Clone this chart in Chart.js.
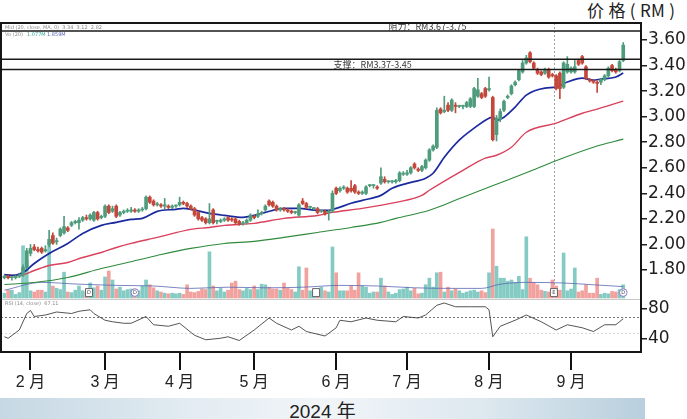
<!DOCTYPE html>
<html><head><meta charset="utf-8">
<script src="https://cdn.jsdelivr.net/npm/chart.js@4/dist/chart.umd.min.js"></script>
<style>
html,body{margin:0;padding:0;background:#fff;}
#wrap{position:relative;width:687px;height:419px;overflow:hidden;background:#fff;}
#band{position:absolute;left:0;top:398px;width:645px;height:21px;background:linear-gradient(90deg,#c6d8e4 0%,#e3ecf2 30%,#f1f5f8 50%,#dde8ef 75%,#b9cfdd 100%);}
#year{position:absolute;left:0;top:396px;width:645px;height:21px;line-height:21px;text-align:center;font:19px 'Liberation Sans Narrow','Liberation Sans','Noto Sans CJK SC',sans-serif;color:#222;}
#title{position:absolute;left:587px;top:-3px;font:17px 'Noto Sans CJK SC','Liberation Sans',sans-serif;letter-spacing:0.3px;color:#222;white-space:nowrap;}
canvas{position:absolute;left:0;top:0;}
</style></head>
<body><div id="wrap">
<div id="band"></div><div id="year">2024 年</div>
<div id="title">价 格 ( RM )</div>
<canvas id="c" width="687" height="419"></canvas>
</div>
<script>
// ---- data ----
const monthIdx = [7, 27, 47, 67, 89, 108, 130, 152];
const monthLabels = ['2 月','3 月','4 月','5 月','6 月','7 月','8 月','9 月'];
const priceTicks = [1.80, 2.00, 2.20, 2.40, 2.60, 2.80, 3.00, 3.20, 3.40, 3.60];
const rsiTicks = [40, 80];
const resistance = [3.67, 3.75];
const support = [3.37, 3.45];

const opens = [1.74,1.75,1.74,1.74,1.75,1.76,1.82,1.93,1.98,1.96,
1.97,1.95,2.00,2.07,2.02,2.07,2.09,2.13,2.15,2.17,
2.17,2.19,2.21,2.20,2.19,2.25,2.21,2.22,2.30,2.26,
2.30,2.23,2.25,2.26,2.26,2.27,2.26,2.27,2.28,2.37,
2.34,2.31,2.31,2.30,2.30,2.29,2.30,2.31,2.33,2.32,
2.30,2.28,2.25,2.21,2.20,2.17,2.27,2.18,2.18,2.19,
2.21,2.20,2.20,2.18,2.16,2.17,2.19,2.22,2.22,2.24,
2.27,2.34,2.33,2.30,2.27,2.28,2.27,2.26,2.25,2.23,
2.34,2.32,2.29,2.28,2.28,2.26,2.26,2.25,2.26,2.44,
2.42,2.44,2.44,2.44,2.46,2.41,2.40,2.40,2.46,2.46,
2.45,2.48,2.51,2.49,2.49,2.49,2.50,2.55,2.55,2.56,
2.63,2.59,2.58,2.60,2.66,2.74,2.76,3.06,3.04,3.09,
3.05,3.09,3.08,3.08,3.08,3.08,3.08,3.16,3.18,3.22,
3.21,3.15,2.86,2.98,3.05,3.15,3.18,3.25,3.29,3.35,
3.42,3.50,3.42,3.37,3.35,3.34,3.37,3.33,3.32,3.34,
3.23,3.35,3.35,3.35,3.44,3.47,3.39,3.29,3.28,3.27,
3.27,3.29,3.32,3.40,3.37,3.36,3.44];
const highs = [1.76,1.76,1.75,1.76,1.77,1.84,1.97,2.00,2.00,1.98,
1.98,1.99,2.11,2.09,2.05,2.13,2.22,2.14,2.18,2.19,
2.21,2.22,2.23,2.24,2.26,2.26,2.23,2.31,2.31,2.30,
2.31,2.26,2.27,2.28,2.29,2.28,2.28,2.29,2.38,2.38,
2.35,2.33,2.32,2.36,2.31,2.31,2.31,2.37,2.34,2.33,
2.31,2.29,2.26,2.22,2.21,2.32,2.28,2.19,2.20,2.21,
2.22,2.21,2.21,2.19,2.18,2.20,2.24,2.23,2.27,2.26,
2.31,2.35,2.34,2.31,2.29,2.29,2.28,2.27,2.26,2.32,
2.36,2.33,2.30,2.29,2.29,2.27,2.27,2.27,2.42,2.45,
2.45,2.46,2.45,2.50,2.47,2.42,2.42,2.46,2.47,2.47,
2.46,2.60,2.53,2.50,2.50,2.51,2.57,2.57,2.58,2.61,
2.64,2.60,2.62,2.67,2.75,2.78,3.07,3.07,3.16,3.11,
3.14,3.11,3.09,3.09,3.12,3.15,3.23,3.30,3.19,3.23,
3.31,3.16,3.01,3.06,3.13,3.17,3.25,3.28,3.37,3.44,
3.48,3.51,3.43,3.38,3.36,3.38,3.38,3.34,3.33,3.35,
3.43,3.47,3.39,3.44,3.45,3.48,3.40,3.30,3.29,3.28,
3.30,3.33,3.39,3.41,3.38,3.44,3.58];
const lows = [1.73,1.73,1.72,1.73,1.74,1.75,1.81,1.91,1.95,1.94,
1.93,1.94,1.98,2.00,2.00,2.06,2.08,2.10,2.14,2.16,
2.12,2.18,2.19,2.19,2.18,2.19,2.20,2.21,2.24,2.25,
2.21,2.22,2.24,2.25,2.25,2.25,2.25,2.26,2.27,2.32,
2.30,2.30,2.29,2.28,2.28,2.28,2.29,2.30,2.31,2.29,
2.27,2.22,2.19,2.18,2.16,2.16,2.16,2.16,2.17,2.18,
2.18,2.18,2.16,2.15,2.15,2.16,2.18,2.20,2.21,2.23,
2.26,2.30,2.29,2.26,2.26,2.26,2.25,2.24,2.24,2.22,
2.31,2.28,2.28,2.27,2.24,2.25,2.23,2.19,2.25,2.39,
2.41,2.43,2.40,2.41,2.40,2.39,2.39,2.39,2.45,2.44,
2.43,2.47,2.48,2.48,2.48,2.48,2.49,2.54,2.54,2.55,
2.59,2.57,2.57,2.59,2.65,2.73,2.75,3.02,3.03,3.04,
3.04,3.03,3.07,3.06,3.07,3.07,3.07,3.15,3.14,3.15,
3.20,2.81,2.81,2.96,3.04,3.14,3.17,3.24,3.28,3.34,
3.41,3.42,3.37,3.33,3.32,3.33,3.30,3.31,3.21,3.14,
3.22,3.34,3.34,3.34,3.40,3.41,3.29,3.27,3.26,3.19,
3.25,3.28,3.31,3.35,3.34,3.35,3.43];
const closes = [1.75,1.74,1.74,1.75,1.76,1.82,1.95,1.97,1.96,1.95,
1.94,1.96,2.04,2.01,2.03,2.12,2.14,2.11,2.17,2.18,
2.19,2.21,2.20,2.23,2.25,2.20,2.22,2.30,2.25,2.28,
2.22,2.25,2.26,2.26,2.27,2.26,2.27,2.27,2.37,2.33,
2.31,2.31,2.30,2.31,2.29,2.30,2.30,2.33,2.32,2.30,
2.28,2.23,2.20,2.19,2.17,2.20,2.17,2.18,2.19,2.20,
2.19,2.19,2.17,2.16,2.17,2.19,2.23,2.21,2.24,2.25,
2.30,2.31,2.30,2.27,2.28,2.27,2.26,2.25,2.25,2.31,
2.32,2.29,2.29,2.28,2.25,2.26,2.24,2.26,2.40,2.40,
2.44,2.45,2.41,2.42,2.41,2.40,2.41,2.45,2.46,2.46,
2.44,2.53,2.49,2.49,2.49,2.50,2.56,2.55,2.56,2.60,
2.60,2.58,2.61,2.66,2.74,2.77,3.05,3.03,3.05,3.05,
3.13,3.08,3.08,3.08,3.11,3.14,3.22,3.21,3.15,3.16,
3.22,2.82,2.99,3.04,3.12,3.16,3.24,3.27,3.36,3.42,
3.46,3.43,3.38,3.34,3.33,3.37,3.31,3.32,3.22,3.22,
3.42,3.41,3.38,3.39,3.41,3.42,3.30,3.28,3.27,3.26,
3.29,3.32,3.38,3.36,3.35,3.43,3.56];
const volumes = [0.8,1.3,1.3,0.6,0.9,8.7,6.3,1.2,1.0,1.3,
1.3,1.0,9.3,2.0,1.6,1.4,4.3,1.0,0.9,1.3,
2.0,1.2,1.0,2.5,1.7,2.0,1.3,3.5,4.5,3.0,
1.5,1.8,1.2,1.4,1.5,1.5,1.2,2.0,3.0,2.2,
1.7,1.2,1.0,0.8,0.7,0.8,0.7,0.8,0.6,2.2,
1.0,0.9,1.1,1.5,1.4,7.7,2.0,1.2,1.6,1.0,
1.3,2.5,2.8,1.4,1.2,1.6,1.4,2.0,1.4,2.3,
2.2,1.8,1.5,1.5,1.3,2.5,1.6,1.4,1.0,5.2,
1.3,5.0,1.2,1.0,0.9,1.8,1.2,1.0,8.5,4.2,
1.2,1.2,1.2,2.0,1.3,4.2,2.0,1.8,0.8,1.0,
1.0,3.3,2.0,1.0,0.6,0.8,1.4,1.5,1.8,1.2,
1.6,0.7,0.8,2.2,3.3,1.8,4.2,4.3,1.0,1.8,
1.2,1.5,1.2,0.8,1.0,1.2,1.3,1.0,1.2,0.9,
4.2,11.5,5.3,3.3,3.3,2.8,3.0,2.6,3.6,1.4,
10.2,3.3,2.6,2.2,1.3,1.1,1.0,3.0,2.0,1.3,
7.5,1.2,1.5,5.0,1.0,1.2,2.2,0.8,0.8,3.3,
0.6,0.8,0.7,1.1,1.0,1.4,2.2];

// moving averages, read at sample points [bar index, value]
const maBlue = [[0,1.765],[2,1.757],[5,1.780],[8,1.851],[12,1.929],[17,2.008],[21,2.086],[26,2.149],[30,2.173],[34,2.196],[37,2.204],[41,2.259],[46,2.275],[48,2.282],[50,2.275],[55,2.243],[59,2.227],[64,2.212],[67,2.227],[70,2.251],[75,2.282],[79,2.282],[84,2.267],[87,2.267],[89,2.282],[93,2.322],[96,2.345],[101,2.384],[104,2.439],[108,2.478],[113,2.518],[115,2.557],[118,2.682],[122,2.816],[126,2.910],[130,2.988],[131,2.996],[132,2.973],[134,2.996],[137,3.075],[140,3.169],[145,3.224],[148,3.231],[151,3.271],[155,3.302],[158,3.286],[160,3.294],[164,3.310],[166,3.341]];
const maRed = [[0,1.765],[4,1.757],[8,1.796],[12,1.835],[17,1.859],[21,1.898],[26,1.937],[30,1.976],[34,2.008],[41,2.055],[50,2.118],[55,2.133],[59,2.149],[67,2.165],[75,2.204],[84,2.227],[88,2.251],[96,2.282],[105,2.329],[112,2.384],[114,2.424],[123,2.580],[129,2.675],[132,2.698],[136,2.761],[140,2.878],[148,2.949],[155,3.027],[158,3.051],[166,3.122]];
const maGreen = [[0,1.686],[8,1.702],[17,1.741],[26,1.812],[33,1.859],[41,1.914],[50,1.969],[59,2.008],[67,2.024],[75,2.055],[84,2.094],[93,2.133],[101,2.173],[105,2.204],[114,2.267],[123,2.369],[132,2.471],[141,2.573],[149,2.667],[158,2.761],[166,2.824]];
const volAvg = [[0,1.3],[10,2.6],[20,2.3],[30,2.1],[40,2.0],[50,1.6],[60,1.8],[70,1.7],[80,1.8],[90,2.1],[100,2.0],[110,1.7],[120,1.6],[128,1.6],[133,2.3],[140,2.6],[150,2.5],[158,2.2],[166,1.9]];
const rsiPts = [[0,43],[1,41],[4,52],[6,74],[7,78],[8,70],[11,72],[14,76],[18,74],[20,77],[23,79],[24,74],[27,65],[29,63],[32,61],[34,61],[38,70],[40,59],[44,57],[47,61],[51,45],[54,39],[58,41],[60,43],[63,38],[67,52],[71,68],[73,61],[77,52],[79,57],[81,50],[86,44],[89,55],[90,65],[93,63],[97,68],[100,65],[105,63],[107,70],[111,68],[113,72],[116,85],[118,88],[121,83],[125,83],[129,83],[130,79],[131,43],[133,57],[137,65],[140,72],[144,63],[148,52],[151,59],[155,55],[158,50],[161,59],[164,59],[166,67]];
const markers = [[22.7,'D','box'],[35,'D','circle'],[83.6,'','box'],[147.4,'E','box'],[166,'D','circle']];
const eventIdx = 147.4;

// ---- layout constants ----
const PRICE_MIN = 1.1583, PRICE_MAX = 3.733;
const RSI_MIN = 22.67, RSI_MAX = 461.33;
const VOL_MIN = -9, VOL_MAX = 45.83;

const UP = '#4f9c7c', DOWN = '#c4473b';
const VUP = '#84cbc3', VDOWN = '#f2a29e';
const isUp = i => closes[i] >= opens[i];

const xy = arr => arr.map(([i, v]) => ({x: i, y: v}));

const decor = {
  id: 'decor',
  beforeDatasetsDraw(chart) {
    const {ctx, chartArea: a, scales} = chart;
    const yr = scales.yr, yv = scales.yv, x = scales.x;
    ctx.save();
    const sep = yv.getPixelForValue(-0.25);
    ctx.strokeStyle = '#c8c8c8'; ctx.lineWidth = 1;
    ctx.beginPath(); ctx.moveTo(a.left, sep); ctx.lineTo(a.right, sep); ctx.stroke();
    ctx.setLineDash([2, 2]);
    ctx.strokeStyle = '#555'; ctx.lineWidth = 0.8;
    let p = Math.round(yr.getPixelForValue(70)) + 0.5;
    ctx.beginPath(); ctx.moveTo(a.left, p); ctx.lineTo(a.right, p); ctx.stroke();
    ctx.strokeStyle = '#cfcfcf';
    p = Math.round(yr.getPixelForValue(48)) + 0.5;
    ctx.beginPath(); ctx.moveTo(a.left, p); ctx.lineTo(a.right, p); ctx.stroke();
    ctx.strokeStyle = '#888'; ctx.lineWidth = 0.8; ctx.setLineDash([2, 2]);
    const ex = Math.round(x.getPixelForValue(eventIdx)) + 0.5;
    ctx.beginPath(); ctx.moveTo(ex, a.top); ctx.lineTo(ex, yv.getPixelForValue(0.6)); ctx.stroke();
    ctx.setLineDash([]);
    ctx.restore();
  },
  afterDatasetsDraw(chart) {
    const {ctx, chartArea: a, scales} = chart;
    const y = scales.y, yv = scales.yv, x = scales.x;
    ctx.save();
    ctx.beginPath(); ctx.rect(a.left, a.top, a.right - a.left, a.bottom - a.top); ctx.clip();
    ctx.strokeStyle = '#1a1a1a'; ctx.lineWidth = 1.5;
    [...resistance, ...support].forEach(v => {
      const py = y.getPixelForValue(v);
      ctx.beginPath(); ctx.moveTo(a.left, py); ctx.lineTo(a.right, py); ctx.stroke();
    });
    ctx.fillStyle = '#3a3a3a';
    ctx.font = "9px 'Noto Sans CJK SC', 'Liberation Sans', sans-serif";
    ctx.textBaseline = 'middle';
    ctx.fillText('阻力：RM3.67-3.75', x.getPixelForValue(103), (y.getPixelForValue(resistance[0]) + a.top) / 2);
    ctx.fillText('支撑：RM3.37-3.45', x.getPixelForValue(88.3), (y.getPixelForValue(support[0]) + y.getPixelForValue(support[1])) / 2);
    ctx.font = "5px 'DejaVu Sans', sans-serif";
    ctx.fillStyle = '#8a8a8a';
    ctx.fillText('Mid (20, close, MA, 0)  3.34  3.12  2.82', a.left + 4, y.getPixelForValue(resistance[0]) - 3);
    ctx.fillText('Vo (20)', a.left + 4, y.getPixelForValue(3.64));
    ctx.fillStyle = '#3aa99a'; ctx.fillText('1.077M', a.left + 26, y.getPixelForValue(3.64));
    ctx.fillStyle = '#5568b8'; ctx.fillText('1.859M', a.left + 46, y.getPixelForValue(3.64));
    ctx.fillStyle = '#8a8a8a';
    ctx.fillText('RSI (14, close)  67.11', a.left + 4, yv.getPixelForValue(-1.0));
    markers.forEach(([i, t, shape]) => {
      const mx = x.getPixelForValue(i), my = yv.getPixelForValue(0.9);
      ctx.fillStyle = '#fff';
      ctx.strokeStyle = shape === 'circle' ? '#7b6fc8' : '#555';
      ctx.lineWidth = 0.9;
      ctx.beginPath();
      if (shape === 'circle') ctx.arc(mx, my, 3.8, 0, Math.PI * 2);
      else ctx.rect(mx - 3.5, my - 4, 7, 8);
      ctx.fill(); ctx.stroke();
      ctx.fillStyle = '#444'; ctx.font = "5px 'DejaVu Sans', sans-serif";
      ctx.textAlign = 'center';
      if (t) ctx.fillText(t, mx, my + 0.5);
      ctx.textAlign = 'left';
    });
    ctx.restore();
    ctx.save();
    ctx.strokeStyle = '#161616'; ctx.lineWidth = 2;
    ctx.strokeRect(a.left, a.top, a.right - a.left, a.bottom - a.top);
    ctx.restore();
  }
};

new Chart(document.getElementById('c'), {
  type: 'bar',
  data: {
    datasets: [
      { type: 'bar', label: 'wick', yAxisID: 'y', order: 2, grouped: false, barThickness: 1,
        data: lows.map((l, i) => ({x: i, y: [l, highs[i]]})),
        backgroundColor: lows.map((_, i) => isUp(i) ? UP : DOWN) },
      { type: 'bar', label: 'body', yAxisID: 'y', order: 1, grouped: false, barThickness: 3, minBarLength: 1,
        data: opens.map((o, i) => ({x: i, y: [o, closes[i]]})),
        backgroundColor: opens.map((_, i) => isUp(i) ? UP : DOWN) },
      { type: 'bar', label: 'volume', yAxisID: 'yv', order: 10, grouped: false, barThickness: 3,
        data: volumes.map((v, i) => ({x: i, y: v})),
        backgroundColor: volumes.map((_, i) => isUp(i) ? VUP : VDOWN) },
      { type: 'line', label: 'vol avg', yAxisID: 'yv', order: 9, data: xy(volAvg),
        borderColor: '#5a67b0', borderWidth: 0.8, pointRadius: 0, cubicInterpolationMode: 'monotone' },
      { type: 'line', label: 'MA green', yAxisID: 'y', order: 6, data: xy(maGreen),
        borderColor: '#2f8a3c', borderWidth: 1.1, pointRadius: 0, cubicInterpolationMode: 'monotone' },
      { type: 'line', label: 'MA red', yAxisID: 'y', order: 5, data: xy(maRed),
        borderColor: '#d9415c', borderWidth: 1.4, pointRadius: 0, cubicInterpolationMode: 'monotone' },
      { type: 'line', label: 'MA blue', yAxisID: 'y', order: 4, data: xy(maBlue),
        borderColor: '#1b2a9e', borderWidth: 1.7, pointRadius: 0, cubicInterpolationMode: 'monotone' },
      { type: 'line', label: 'RSI', yAxisID: 'yr', order: 8, data: xy(rsiPts),
        borderColor: '#2a2a2a', borderWidth: 0.8, pointRadius: 0, tension: 0 }
    ]
  },
  options: {
    responsive: false, animation: false,
    layout: { padding: { left: 1, top: 23, right: 0, bottom: 0 } },
    plugins: { legend: { display: false }, tooltip: { enabled: false } },
    scales: {
      x: {
        type: 'linear', min: -0.912, max: 170.76, offset: false,
        grid: { drawOnChartArea: false, drawTicks: true, tickLength: 18, color: '#111', lineWidth: 2, offset: false },
        border: { display: false },
        ticks: { autoSkip: false, maxRotation: 0, padding: 3, color: '#222',
          font: { family: "'Liberation Sans', 'Noto Sans CJK SC', sans-serif", size: 16 },
          callback: (v, i) => monthLabels[i] },
        afterBuildTicks: s => { s.ticks = monthIdx.map(v => ({value: v})); },
        afterFit: s => { s.height = 67; }
      },
      y: {
        type: 'linear', position: 'right', min: PRICE_MIN, max: PRICE_MAX,
        grid: { drawOnChartArea: false, drawTicks: true, tickLength: 6, color: '#222', lineWidth: 1.5 },
        border: { display: false },
        ticks: { autoSkip: false, padding: 1, color: '#1e1e1e',
          font: { family: "'DejaVu Sans', sans-serif", size: 17 },
          callback: (v, i, t) => t[i].lab },
        afterBuildTicks: s => {
          const pt = priceTicks.map(v => ({value: v, lab: v.toFixed(2)}));
          const rt = rsiTicks.map(r => ({
            value: PRICE_MIN + (r - RSI_MIN) / (RSI_MAX - RSI_MIN) * (PRICE_MAX - PRICE_MIN),
            lab: String(r)}));
          s.ticks = [...rt, ...pt];
        },
        afterFit: s => { s.width = 46; }
      },
      yv: { type: 'linear', display: false, min: VOL_MIN, max: VOL_MAX },
      yr: { type: 'linear', display: false, min: RSI_MIN, max: RSI_MAX }
    }
  },
  plugins: [decor]
});
</script>
</body></html>
